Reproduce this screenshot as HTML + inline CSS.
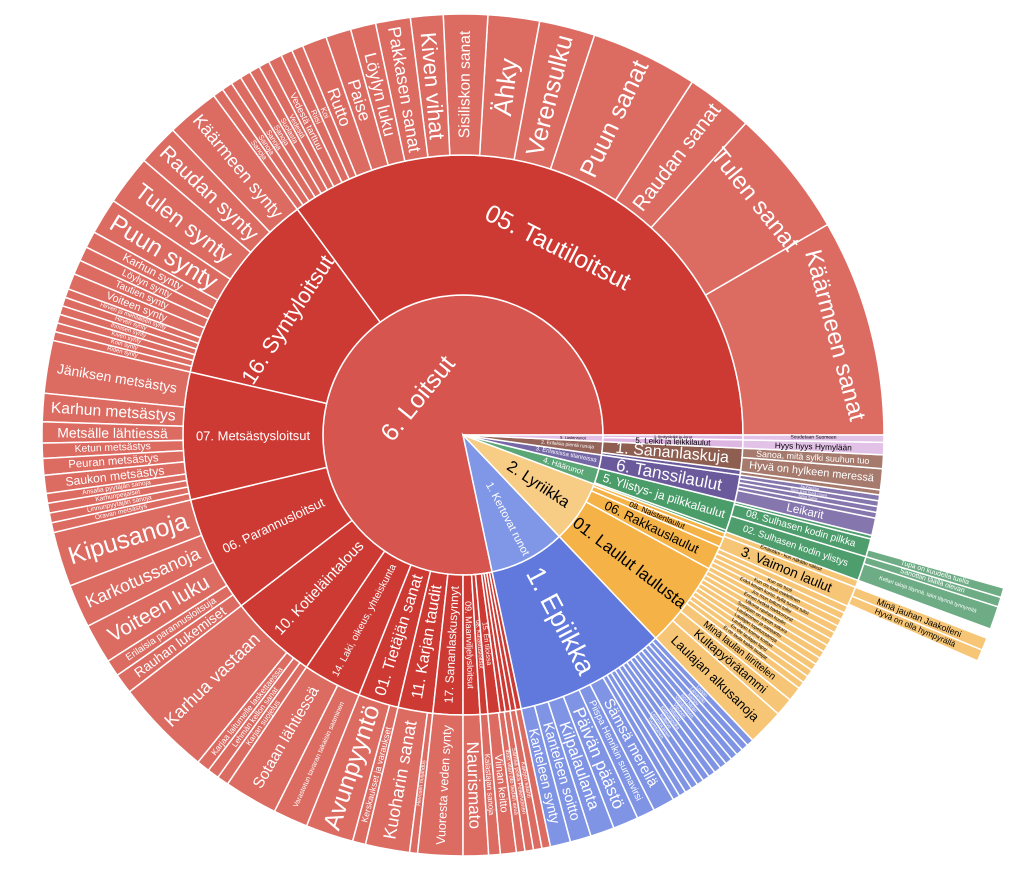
<!DOCTYPE html>
<html><head><meta charset="utf-8"><style>
html,body{margin:0;padding:0;background:#fff;width:1030px;height:874px;overflow:hidden}
svg{display:block;font-family:"Liberation Sans","DejaVu Sans",sans-serif}
</style></head><body>
<svg id="s" width="1030" height="874" viewBox="0 0 1030 874" xmlns="http://www.w3.org/2000/svg"></svg>
<script>
const cx=463,cy=435,NS="http://www.w3.org/2000/svg",svg=document.getElementById('s');
function P(r,a){const t=a*Math.PI/180;return [(cx+r*Math.cos(t)).toFixed(2),(cy-r*Math.sin(t)).toFixed(2)];}
function sector(r0,r1,a0,a1){const L=(a1-a0)>180?1:0;const p1=P(r1,a0),p2=P(r1,a1),p3=P(r0,a1),p4=P(r0,a0);
let d=`M${p1} A${r1},${r1} 0 ${L} 0 ${p2} L${p3}`;if(r0>0)d+=` A${r0},${r0} 0 ${L} 1 ${p4}`;return d+'Z';}
const items=[];
function add(r0,r1,a0,a1,fill,label,o,fs,tc,rm){items.push({r0,r1,a0,a1,fill,label,o:o||'r',fs,tc:tc||'#fff',rm});}
function thin(r0,r1,a0,a1,n,fill,labels,tc){const s=(a1-a0)/n;for(let i=0;i<n;i++)add(r0,r1,a0+i*s,a0+(i+1)*s,fill,labels?labels[i]||'':'','r',null,tc);}
const cL1='#d6554f',cL2='#cd3a33',cL3='#dc6b62',cE1='#7f97e6',cE2='#6179dc',cE3='#7f94e4',
cY1='#f7cc85',cY2='#f4b247',cY3='#f6c676',cG1='#5aa676',cG2='#4a9c69',cG3='#4e9e6d',cG4='#6eac85',
cP1='#7566a6',cP2='#6a5a9c',cP3='#8576ae',cB1='#94645a',cB2='#8e5e51',cB3='#a67b6e',cV1='#e2bfe6',cV2='#deb6e2',cV3='#e3c2e8';
add(0,140,0,282,cL1,'6. Loitsut','t',25,'#fff',58);
add(0,140,282,313.5,cE1,'1. Kertovat runot','r',11,'#fff',95);
add(0,140,313.5,339.5,cY1,'2. Lyriikka','r',16,'#000',90);
add(0,140,339.5,346.2,cG1,'4. Häärunot','r',8,'#fff',105);
add(0,140,346.2,351.8,cP1,'3. Erilaisissa tilanteissa','r',6,'#fff',105);
add(0,140,351.8,357.3,cB1,'2. Erilaisia pieniä runoja','r',5,'#fff',105);
add(0,140,357.3,360,cV1,'5. Lastenrunot','r',4,'#000',110);
add(140,280,0,126.3,cL2,'05. Tautiloitsut','t',25);
add(140,280,126.3,167,cL2,'16. Syntyloitsut','t',22);
add(140,280,167,193.4,cL2,'07. Metsästysloitsut','r',13);
add(140,280,193.4,217.6,cL2,'06. Parannusloitsut','r',13);
add(140,280,217.6,236,cL2,'10. Kotieläintalous','r',15);
add(140,280,236,248.2,cL2,'14. Laki, oikeus, yhteiskunta','r',10);
add(140,280,248.2,256.6,cL2,'01. Tietäjän sanat','r',16);
add(140,280,256.6,263.8,cL2,'11. Karjan taudit','r',16);
add(140,280,263.8,270,cL2,'17. Sananlaskusynnyt','r',12);
add(140,280,270,273.5,cL2,'09. Maanviljelysloitsut','r',9);
add(140,280,273.5,275.1,cL2,'08. Kalastusloitsut','r',6);
add(140,280,275.1,277.6,cL2,'15. Eri tiloissa','r',7);
thin(140,280,277.6,282,4,cL2);
add(140,280,282,313.5,cE2,'1. Epiikka','r',27);
add(140,280,313.5,331.5,cY2,'01. Laulut laulusta','r',17,'#000');
add(140,280,331.5,336.5,cY2,'06. Rakkauslaulut','r',13,'#000');
add(140,280,336.5,338.5,cY2,'08. Naistenlaulut','r',8,'#000');
add(140,280,338.5,339.5,cY2,'','r',null,'#000');
add(140,280,339.5,340.1,cG2,'');
add(140,280,340.1,346.2,cG2,'5. Ylistys- ja pilkkalaulut','r',12);
add(140,280,346.2,351.8,cP2,'6. Tanssilaulut','r',17);
add(140,280,351.8,352.8,cP2,'');
add(140,280,352.8,357.3,cB2,'1. Sananlaskuja','r',16);
add(140,280,357.3,359,cV2,'5. Leikit ja leikkilaulut','r',8,'#000');
add(140,280,359,360,cV2,'1. Ilmitysleikit ja -lorut','r',4,'#000');
[[0,30,'Käärmeen sanat','t',24,385],[30,47.8,'Tulen sanat','t',24,375],[47.8,57,'Raudan sanat'],[57,71.8,'Puun sanat'],[71.8,79.5,'Verensulku'],[79.5,86.6,'Ähky'],[86.6,92.7,'Sisiliskon sanat'],[92.7,97.2,'Kiven vihat'],[97.2,102,'Pakkasen sanat'],[102,105.5,'Löylyn luku'],[105.5,109,'Paise'],[109,112.4,'Rutto'],[112.4,114,'Koi'],[114,115.6,'Riisi'],[115.6,117.5,'Vedestä tarttuu'],
[126.3,133.6,'Käärmeen synty'],[133.6,139.3,'Raudan synty'],[139.3,146.2,'Tulen synty'],[146.2,151.2,'Puun synty'],[151.2,153.5,'Karhun synty'],[153.5,155.5,'Löylyn synty'],[155.5,157.5,'Tautien synty'],[157.5,159.7,'Voiteen synty'],
[167,174.3,'Jäniksen metsästys'],[174.3,178.2,'Karhun metsästys'],[178.2,181.1,'Metsälle lähtiessä'],[181.1,183.2,'Ketun metsästys'],[183.2,185.5,'Peuran metsästys'],[185.5,188,'Saukon metsästys'],
[193.4,201,'Kipusanoja'],[201,207,'Karkotussanoja'],[207,212.5,'Voiteen luku'],[212.5,214.8,'Erilaisia parannusloitsuja'],[214.8,217.6,'Rauhan lukemiset'],
[217.6,231,'Karhua vastaan'],[231,232.8,'Karjaa laitumelle laskettaessa'],[232.8,234.4,'Lehmän kellon sanat'],[234.4,236,'Karjan suojelus'],
[236,243.4,'Sotaan lähtiessä'],[243.4,248.2,'Varastetun tavaran takaisin saaminen'],[248.2,254.8,'Avunpyyntö'],[254.8,256.6,'Kerskaukset ja varaukset'],
[256.6,262.7,'Kuoharin sanat'],[262.7,263.8,'Hevosen nuljahdus'],[263.8,270,'Vuoresta veden synty'],[270,273.5,'Naurismato'],[273.5,275.1,'Kalastajan sanoja'],[275.1,277.3,'Viinan keitto']
].forEach(a=>add(280,421,a[0],a[1],cL3,a[2],a[3]||'r',a[4],'#fff',a[5]));
thin(280,421,117.5,126.3,6,cL3,['Vedestä','Suolasta','Sanoja','Sanoja','Sanoja','Sanoja']);
thin(280,421,159.7,167,6,cL3,['Hirven ja mehiläisen synty','Hirven synty','Ihmisen synty','Kiven synty','Koin synty','Riden synty']);
thin(280,421,188,193.4,4,cL3,['Ansalla pyytäjän sanoja','Karhunpeijaiset','Linnunpyytäjän sanoja','Oravan metsästys']);
thin(280,421,277.3,282,4,cL3,['Iban vilan oto tiedän avua','Sämsä poika Pellervoinen','Kalojen saanti','']);
[[282,284.8,'Kanteleen synty'],[284.8,287.7,'Kanteleen soitto'],[287.7,291,'Kilpalaulanta'],[291,294.5,'Päivän päästö'],[294.5,297,'Piispa Henrikin surmavirsi'],[297,300,'Sämsä merellä']].forEach(a=>add(280,421,a[0],a[1],cE3,a[2]));
thin(280,421,300,313.5,14,cE3,['','','','Tuuretuinen','Lemminkäinen','Kullervo','Kalevanpoika','Vellamo','Vipunen','Väinämöisen','Ison härän','Sampo','Laivaretki','Luojan']);
add(280,421,313.5,318.5,cY3,'Laulajan alkusanoja','r',null,'#000');
add(280,421,318.5,321,cY3,'Kultapyörätammi','r',null,'#000');
add(280,421,321,323,cY3,'Minä laulan liirittelen','r',null,'#000');
thin(280,421,323,336,13,cY3,['Ei ne laula kaikki laulajat','En ole laulajan lapsi','Laulajan koima koittaa','Laulajan lopetussanoja','Laulaminen ja sanaantu','Suosijain on sanan sakara','Ulkona rauhaa kuulin','Ennen hetkiä harkkonurat','Jos mun tuttuni tulisi','Enkä kauan kurisi, kyllä tuosta tulisi','Kun ois tuuli mielellinen','Kun ois tuuli',''],'#000');
add(280,421,336,338.8,cY3,'3. Vaimon laulut','r',null,'#000');
add(280,421,338.8,339.8,cY3,'Emäntäni - kun näkään näkisit','r',null,'#000');
add(280,421,339.8,343.2,cG3,'02. Sulhasen kodin ylistys','r');
add(280,421,343.2,345.7,cG3,'08. Sulhasen kodin pilkka','r');
add(280,421,345.7,346.2,cG3,'');
add(280,421,346.2,348.6,cP3,'Leikarit','r');
add(280,421,348.6,349.4,cP3,'');
thin(280,421,349.4,351.8,3,cP3,['Simo Sarre','Sure sure hyvä rouva','Jauhaessa']);
add(280,421,351.8,352.5,cB3,'');
add(280,421,352.5,355.4,cB3,'Hyvä on hylkeen meressä','r');
add(280,421,355.4,357.3,cB3,'Sanoa, mitä sylki suuhun tuo','r');
add(280,421,357.3,359,cV3,'Hyys hyys Hymylään','r',null,'#000');
add(280,421,359,360,cV3,'Soudetaan Suomeen','r',null,'#000');
add(421,562,336.3,337.5,cY3,'Hyvä on olla hympyrällä','r',null,'#000');
add(421,562,337.5,338.8,cY3,'Minä jauhan Jaakolleni','r',null,'#000');
add(421,562,339.8,342.2,cG4,'Kellari taloja täynnä, talot täynnä tynnyreitä','r');
add(421,562,342.2,343.2,cG4,'Sanottiin täällä olevan','r');
add(421,562,343.2,344.2,cG4,'Tupa on kuudella tuella','r');
function norm(a){a%=360;if(a<0)a+=360;return a;}
let out='';
items.forEach(it=>{out+=`<path d="${sector(it.r0,it.r1,it.a0,it.a1)}" fill="${it.fill}" stroke="#fff" stroke-width="1.5"/>`;});
items.forEach(it=>{
 if(!it.label)return;
 const th=norm((it.a0+it.a1)/2);const rm=it.rm||(it.r0+it.r1)/2;
 const arc=rm*(it.a1-it.a0)*Math.PI/180;const thick=it.r1-it.r0;const n=it.label.length;
 let fs=it.fs;
 if(!fs){ if(it.o==='r') fs=Math.min(0.8*arc,0.94*thick/(0.53*n),26); else fs=Math.min(0.7*thick,0.9*arc/(0.53*n),26); }
 if(fs<3)return;
 let rot;
 if(it.o==='r') rot=(th>90&&th<270)?180-th:-th;
 else rot=(th>0&&th<180)?90-th:270-th;
 const p=P(rm,th);
 const esc=it.label.replace(/&/g,'&amp;').replace(/</g,'&lt;');
 out+=`<text x="${p[0]}" y="${p[1]}" transform="rotate(${rot.toFixed(2)} ${p[0]} ${p[1]})" font-size="${fs.toFixed(1)}" fill="${it.tc}" text-anchor="middle" dominant-baseline="central">${esc}</text>`;
});
svg.innerHTML=out;
</script>
</body></html>
